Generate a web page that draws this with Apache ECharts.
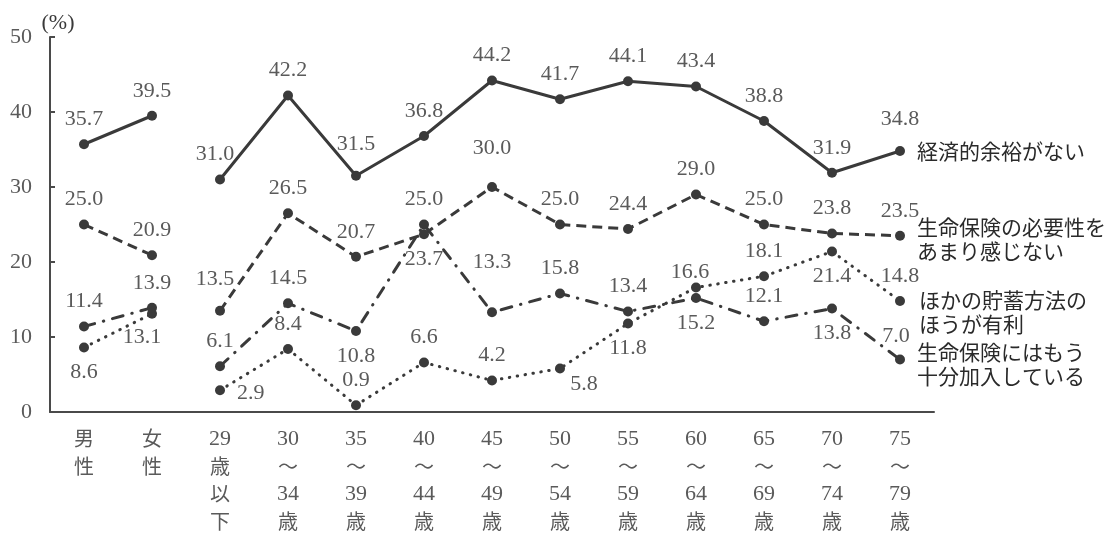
<!DOCTYPE html>
<html>
<head>
<meta charset="utf-8">
<script src="https://cdn.jsdelivr.net/npm/echarts@6/dist/echarts.min.js"></script>
<style>
  html, body { margin: 0; padding: 0; background: #fff; }
  #chart { width: 1118px; height: 533px; }
</style>
</head>
<body>
<div id="chart"></div>
<script>
// Categories: two gender groups, then eleven age bands
const categories = [
  '男\n性', '女\n性',
  '29\n歳\n以\n下', '30\n～\n34\n歳', '35\n～\n39\n歳', '40\n～\n44\n歳',
  '45\n～\n49\n歳', '50\n～\n54\n歳', '55\n～\n59\n歳', '60\n～\n64\n歳',
  '65\n～\n69\n歳', '70\n～\n74\n歳', '75\n～\n79\n歳'
];
const genderCount = 2;

// 経済的余裕がない
const noMoneyGender = [35.7, 39.5];
const noMoneyAge = [31.0, 42.2, 31.5, 36.8, 44.2, 41.7, 44.1, 43.4, 38.8, 31.9, 34.8];
// 生命保険の必要性をあまり感じない
const noNeedGender = [25.0, 20.9];
const noNeedAge = [13.5, 26.5, 20.7, 23.7, 30.0, 25.0, 24.4, 29.0, 25.0, 23.8, 23.5];
// ほかの貯蓄方法のほうが有利
const otherSavingsGender = [8.6, 13.1];
const otherSavingsAge = [2.9, 8.4, 0.9, 6.6, 4.2, 5.8, 11.8, 16.6, 18.1, 21.4, 14.8];
// 生命保険にはもう十分加入している
const enoughCoverGender = [11.4, 13.9];
const enoughCoverAge = [6.1, 14.5, 10.8, 25.0, 13.3, 15.8, 13.4, 15.2, 12.1, 13.8, 7.0];

const yTicks = { min: 0, max: 50, interval: 10 };

const INK = '#3a3a3a';
const TEXT = '#5a5a5a';
const SERIF = '"Liberation Serif", "Noto Sans CJK JP", serif';
const CJK = '"Noto Sans CJK JP", sans-serif';
const NUM_SIZE = 22;

// Per-point label placement (index into the full category list)
const labelLayout = {
  noMoney: { 2: { offset: [-5, 0] }, 4: { offset: [0, -7] }, 12: { offset: [0, -7] } },
  noNeed: { 2: { offset: [-5, -7] }, 5: { position: 'bottom' }, 6: { offset: [0, -14] } },
  otherSavings: {
    0: { position: 'bottom' }, 1: { position: 'bottom', offset: [-10, -2] },
    2: { position: 'right', offset: [3, 3] }, 7: { position: 'bottom', offset: [24, -9] },
    8: { position: 'bottom' }, 9: { offset: [-6, 10] }, 11: { position: 'bottom' }
  },
  enoughCover: {
    4: { position: 'bottom' }, 6: { offset: [0, -25] }, 9: { position: 'bottom' },
    11: { position: 'bottom' }, 12: { offset: [-4, 2] }
  }
};

function buildData(values, startIndex, layout) {
  const data = categories.map(() => null);
  values.forEach((v, i) => {
    const idx = startIndex + i;
    const item = { value: v };
    if (layout[idx]) item.label = layout[idx];
    data[idx] = item;
  });
  return data;
}

function makeSeries(key, name, genderVals, ageVals, lineStyle, endLabel) {
  const common = {
    type: 'line',
    name: name,
    symbol: 'circle',
    symbolSize: 10,
    connectNulls: false,
    z: 3,
    lineStyle: Object.assign({ color: INK, width: 3 }, lineStyle),
    itemStyle: { color: INK },
    label: {
      show: true,
      position: 'top',
      distance: 9,
      color: TEXT,
      fontFamily: SERIF,
      fontSize: NUM_SIZE,
      formatter: p => (p.value == null ? '' : Number(p.value).toFixed(1))
    },
    emphasis: { disabled: true }
  };
  const g = Object.assign({}, common, {
    data: buildData(genderVals, 0, labelLayout[key])
  });
  const a = Object.assign({}, common, {
    data: buildData(ageVals, genderCount, labelLayout[key]),
    endLabel: Object.assign({
      show: true,
      formatter: name,
      color: '#2a2a2a',
      fontFamily: CJK,
      fontSize: 21,
      lineHeight: 24,
      distance: 17,
      align: 'left',
      verticalAlign: 'middle'
    }, endLabel)
  });
  return [g, a];
}

const series = [].concat(
  makeSeries('noMoney', '経済的余裕がない', noMoneyGender, noMoneyAge,
    { type: 'solid' }, { offset: [0, 0] }),
  makeSeries('noNeed', '生命保険の必要性を\nあまり感じない', noNeedGender, noNeedAge,
    { type: [10, 6] }, { offset: [0, 3] }),
  makeSeries('otherSavings', 'ほかの貯蓄方法の\nほうが有利', otherSavingsGender, otherSavingsAge,
    { type: [0.5, 7.5], cap: 'round' }, { offset: [2, 11] }),
  makeSeries('enoughCover', '生命保険にはもう\n十分加入している', enoughCoverGender, enoughCoverAge,
    { type: [11, 9, 0.5, 9], cap: 'round' }, { offset: [0, 5] })
);

const chart = echarts.init(document.getElementById('chart'), null, { renderer: 'canvas' });
chart.setOption({
  animation: false,
  backgroundColor: '#ffffff',
  grid: { left: 50, right: 184, top: 37, bottom: 121, containLabel: false, outerBoundsMode: 'none' },
  xAxis: {
    type: 'category',
    data: categories,
    boundaryGap: true,
    axisLine: { lineStyle: { color: '#4a4a4a', width: 2 } },
    axisTick: { inside: true, length: 5, lineStyle: { color: '#4a4a4a', width: 2 } },
    axisLabel: {
      interval: 0,
      margin: 13,
      color: TEXT,
      formatter: v => v.split('\n').map(s => /^\d+$/.test(s) ? '{n|' + s + '}' : '{c|' + s + '}').join('\n'),
      rich: {
        n: { fontFamily: SERIF, fontSize: NUM_SIZE, lineHeight: 27.5, color: TEXT },
        c: { fontFamily: CJK, fontSize: 20, lineHeight: 27.5, color: TEXT }
      }
    },
    splitLine: { show: false }
  },
  yAxis: {
    type: 'value',
    min: yTicks.min,
    max: yTicks.max,
    interval: yTicks.interval,
    name: '(%)',
    nameLocation: 'end',
    nameGap: 3,
    nameTextStyle: { color: '#3a3a3a', fontFamily: SERIF, fontSize: NUM_SIZE, align: 'center', padding: [0, 0, 0, 16] },
    axisLine: { show: true, lineStyle: { color: '#4a4a4a', width: 2 } },
    axisTick: { show: true, inside: true, length: 5, lineStyle: { color: '#4a4a4a', width: 2 } },
    axisLabel: { margin: 18, color: TEXT, fontFamily: SERIF, fontSize: NUM_SIZE },
    splitLine: { show: false }
  },
  series: series
});
</script>
</body>
</html>
